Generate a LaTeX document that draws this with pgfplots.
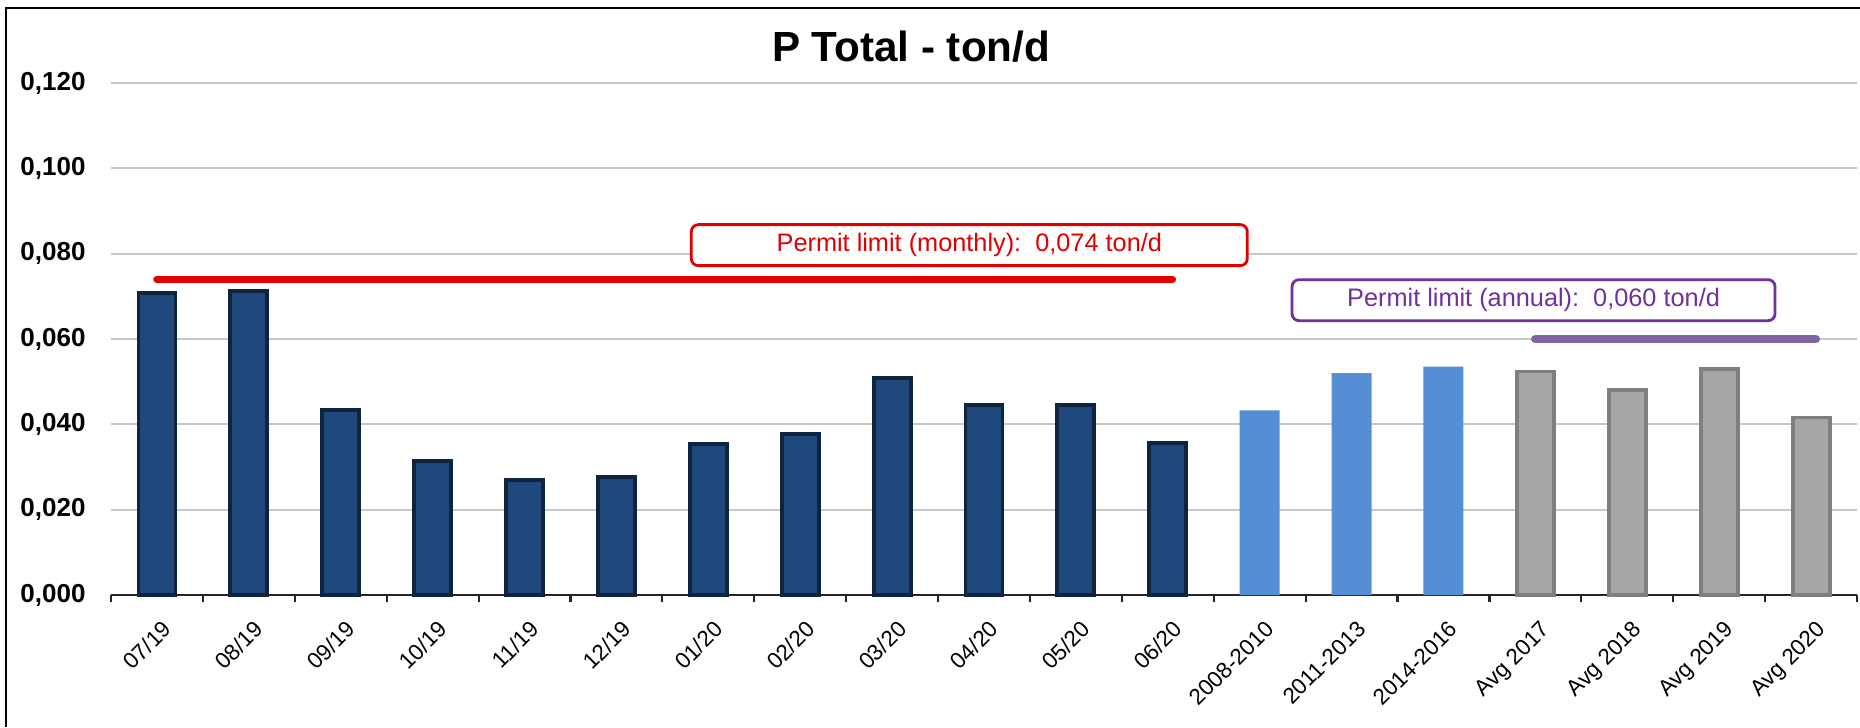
\documentclass[border=0pt]{standalone}
\usepackage{fontspec}
\setmainfont{Liberation Sans}
\usepackage{pgfplots}
\pgfplotsset{compat=1.18}
\definecolor{cNavy}{HTML}{1F497D}
\definecolor{cNavyEdge}{HTML}{10243F}
\definecolor{cLight}{HTML}{558ED5}
\definecolor{cGray}{HTML}{A6A6A6}
\definecolor{cGrayEdge}{HTML}{7F7F7F}
\definecolor{cRed}{HTML}{E00000}
\definecolor{cPurpleLine}{HTML}{8064A2}
\definecolor{cPurple}{HTML}{7030A0}
\definecolor{cGrid}{HTML}{C8C8C0}

\begin{document}
\begin{tikzpicture}
\useasboundingbox (-1.11,-1.32) rectangle (17.49,5.95);
\draw[line width=0.7pt] (-1.05,-1.32) -- (-1.05,5.87) -- (17.49,5.87);
\node[font=\fontsize{12}{14}\selectfont\bfseries] at (8.00,5.48) {P Total - ton/d};
\begin{axis}[
    at={(0,0)}, anchor=south west, scale only axis,
    width=17.46cm, height=5.12cm,
    xmin=-0.5, xmax=18.5, ymin=0, ymax=0.12,
    axis lines*=left,
    y axis line style={draw=none},
    x axis line style={-, black!85, line width=0.6pt},
    xtick={-0.5,0.5,...,18.5},
    x tick label as interval,
    xticklabels={07/19,08/19,09/19,10/19,11/19,12/19,01/20,02/20,03/20,04/20,05/20,06/20,2008-2010,2011-2013,2014-2016,Avg 2017,Avg 2018,Avg 2019,Avg 2020},
    xtick style={black!85, line width=0.6pt},
    tick align=outside,
    major tick length=0.07cm,
    xticklabel style={rotate=45, anchor=north east, font=\fontsize{6.4}{7}\selectfont, xshift=0.03cm, yshift=-0.03cm},
    ytick={0,0.02,...,0.12},
    ytick style={draw=none},
    scaled y ticks=false,
    yticklabel style={font=\fontsize{7.4}{9}\selectfont\bfseries, xshift=-0.06cm,
        /pgf/number format/.cd, fixed, fixed zerofill, precision=3, use comma, assume math mode=true},
    ymajorgrids,
    grid style={cGrid, line width=0.5pt},
    clip=false,
]
% monthly values
\addplot[ybar, bar shift=0pt, bar width=0.37cm, fill=cNavy, draw=cNavyEdge, line width=1.1pt] coordinates {
    (0,0.0707)(1,0.0712)(2,0.0434)(3,0.0314)(4,0.0270)(5,0.0276)
    (6,0.0353)(7,0.0378)(8,0.0509)(9,0.0446)(10,0.0446)(11,0.0357)
};
% period averages
\addplot[ybar, bar shift=0pt, bar width=0.40cm, fill=cLight, draw=none] coordinates {
    (12,0.0433)(13,0.0520)(14,0.0535)
};
% annual averages
\addplot[ybar, bar shift=0pt, bar width=0.37cm, fill=cGray, draw=cGrayEdge, line width=1.1pt] coordinates {
    (15,0.0524)(16,0.0480)(17,0.0530)(18,0.0416)
};
% permit limits
\addplot[sharp plot, no marks, cRed, line width=2.1pt, line cap=round] coordinates {(0,0.074)(11.05,0.074)};
\addplot[sharp plot, no marks, cPurpleLine, line width=2.5pt, line cap=round] coordinates {(15,0.060)(18.05,0.060)};
\node[draw=cRed, line width=0.8pt, rounded corners=0.07cm, fill=white, text=cRed,
      minimum width=5.56cm, minimum height=0.41cm, inner sep=0pt,
      font=\fontsize{7.2}{8}\selectfont] at (axis cs:8.84,0.082) {Permit limit (monthly):\ \ 0,074 ton/d};
\node[draw=cPurple, line width=0.8pt, rounded corners=0.07cm, fill=white, text=cPurple,
      minimum width=4.83cm, minimum height=0.41cm, inner sep=0pt,
      font=\fontsize{7.2}{8}\selectfont] at (axis cs:14.98,0.0691) {Permit limit (annual):\ \ 0,060 ton/d};
\end{axis}
\end{tikzpicture}
\end{document}
